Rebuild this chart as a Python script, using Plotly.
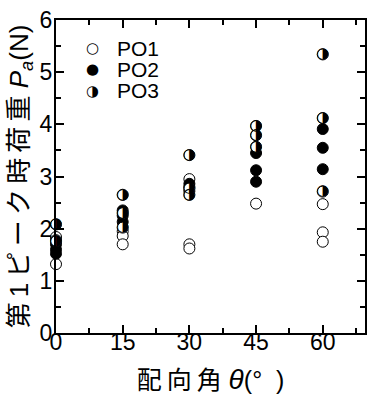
import plotly.graph_objects as go

# ---- data ----
po1_theta = [0, 0, 0, 15, 15, 15, 30, 30, 30, 45, 60, 60, 60]
po1_load = [1.84, 1.78, 1.32, 1.95, 1.86, 1.70, 2.95, 1.70, 1.62, 2.48, 2.47, 1.93, 1.75]

po2_theta = [0, 0, 0, 15, 15, 15, 30, 30, 30, 45, 45, 45, 60, 60, 60]
po2_load = [1.70, 1.60, 1.52, 2.35, 2.25, 2.13, 2.86, 2.80, 2.72, 3.45, 3.12, 2.90, 3.91, 3.55, 3.14]

po3_theta = [0, 0, 15, 15, 15, 30, 30, 30, 45, 45, 45, 60, 60, 60]
po3_load = [2.08, 1.76, 2.65, 2.30, 2.02, 3.41, 2.77, 2.65, 3.97, 3.79, 3.57, 5.34, 4.12, 2.71]

series_names = ["PO1", "PO2", "PO3"]
x_ticks = [0, 15, 30, 45, 60]
y_ticks = [0, 1, 2, 3, 4, 5, 6]

FONT = "Liberation Sans, Arial, Noto Sans CJK JP, sans-serif"
GLYPH = "DejaVu Sans"
MS = 11
TS = "\u2009"  # thin space used as letter spacing in the CJK titles

fig = go.Figure()
fig.add_trace(go.Scatter(
    x=po1_theta, y=po1_load, mode="markers", name="PO1", showlegend=False,
    marker=dict(symbol="circle", size=MS, color="white", line=dict(color="black", width=1)),
    cliponaxis=False))
fig.add_trace(go.Scatter(
    x=po2_theta, y=po2_load, mode="markers", name="PO2", showlegend=False,
    marker=dict(symbol="circle", size=MS, color="black", line=dict(color="black", width=1)),
    cliponaxis=False))
# PO3: white disc underneath + half-black glyph on top
fig.add_trace(go.Scatter(
    x=po3_theta, y=po3_load, mode="markers", name="PO3", showlegend=False,
    marker=dict(symbol="circle", size=MS, color="white", line=dict(color="black", width=1)),
    cliponaxis=False))
fig.add_trace(go.Scatter(
    x=po3_theta, y=po3_load, mode="text", name="PO3", showlegend=False,
    text=["\u25D1"] * len(po3_theta), textposition="middle center",
    textfont=dict(family=GLYPH, size=15, color="black"),
    cliponaxis=False))

axis_common = dict(
    showline=True, linecolor="black", linewidth=2, mirror="ticks",
    ticks="inside", ticklen=8, tickwidth=1.5, tickcolor="black",
    showgrid=False, zeroline=False, automargin=False,
    tickfont=dict(family=FONT, size=23, color="black"),
)

x_title = ("配" + TS + "向" + TS + "角\u00a0"
           "<span style='font-size:28px'><i>θ</i></span>(°\u00a0\u00a0)")
y_title = (TS.join("第1ピーク時荷重") + "\u00a0<i>P</i><sub><i>a</i></sub>(N)")

fig.update_xaxes(
    range=[0, 69.5], tickvals=x_ticks, ticktext=[str(v) for v in x_ticks],
    minor=dict(dtick=7.5, tick0=0, ticks="inside", ticklen=5, tickwidth=1.5, tickcolor="black", showgrid=False),
    ticklabelstandoff=-13,
    title=dict(text=x_title, font=dict(family=FONT, size=25, color="black"), standoff=18),
    **axis_common)
fig.update_yaxes(
    range=[0, 6], tickvals=y_ticks, ticktext=[str(v) for v in y_ticks],
    minor=dict(dtick=0.5, tick0=0, ticks="inside", ticklen=5, tickwidth=1.5, tickcolor="black", showgrid=False),
    ticklabelstandoff=-3,
    title=dict(text=y_title, font=dict(family=FONT, size=26, color="black"), standoff=4),
    **axis_common)

# legend drawn as annotations
legend_glyphs = ["\u25CB", "\u25CF", "\u25D1"]
legend_y = [0.91, 0.843, 0.774]
for name, g, ly in zip(series_names, legend_glyphs, legend_y):
    fig.add_annotation(x=0.119, y=ly, xref="paper", yref="paper", text=g, showarrow=False,
                       xanchor="center", yanchor="middle", font=dict(family=GLYPH, size=15, color="black"))
    fig.add_annotation(x=0.19, y=ly, xref="paper", yref="paper", text=name, showarrow=False,
                       xanchor="left", yanchor="middle", font=dict(family=FONT, size=21, color="black"))

fig.update_layout(
    width=369, height=396,
    margin=dict(l=56, r=4, t=20, b=63),
    plot_bgcolor="white", paper_bgcolor="white",
    showlegend=False,
)

fig.write_html("out.html", config={"displayModeBar": False},
               post_script="document.body.style.margin='0px';document.body.style.overflow='hidden';")
